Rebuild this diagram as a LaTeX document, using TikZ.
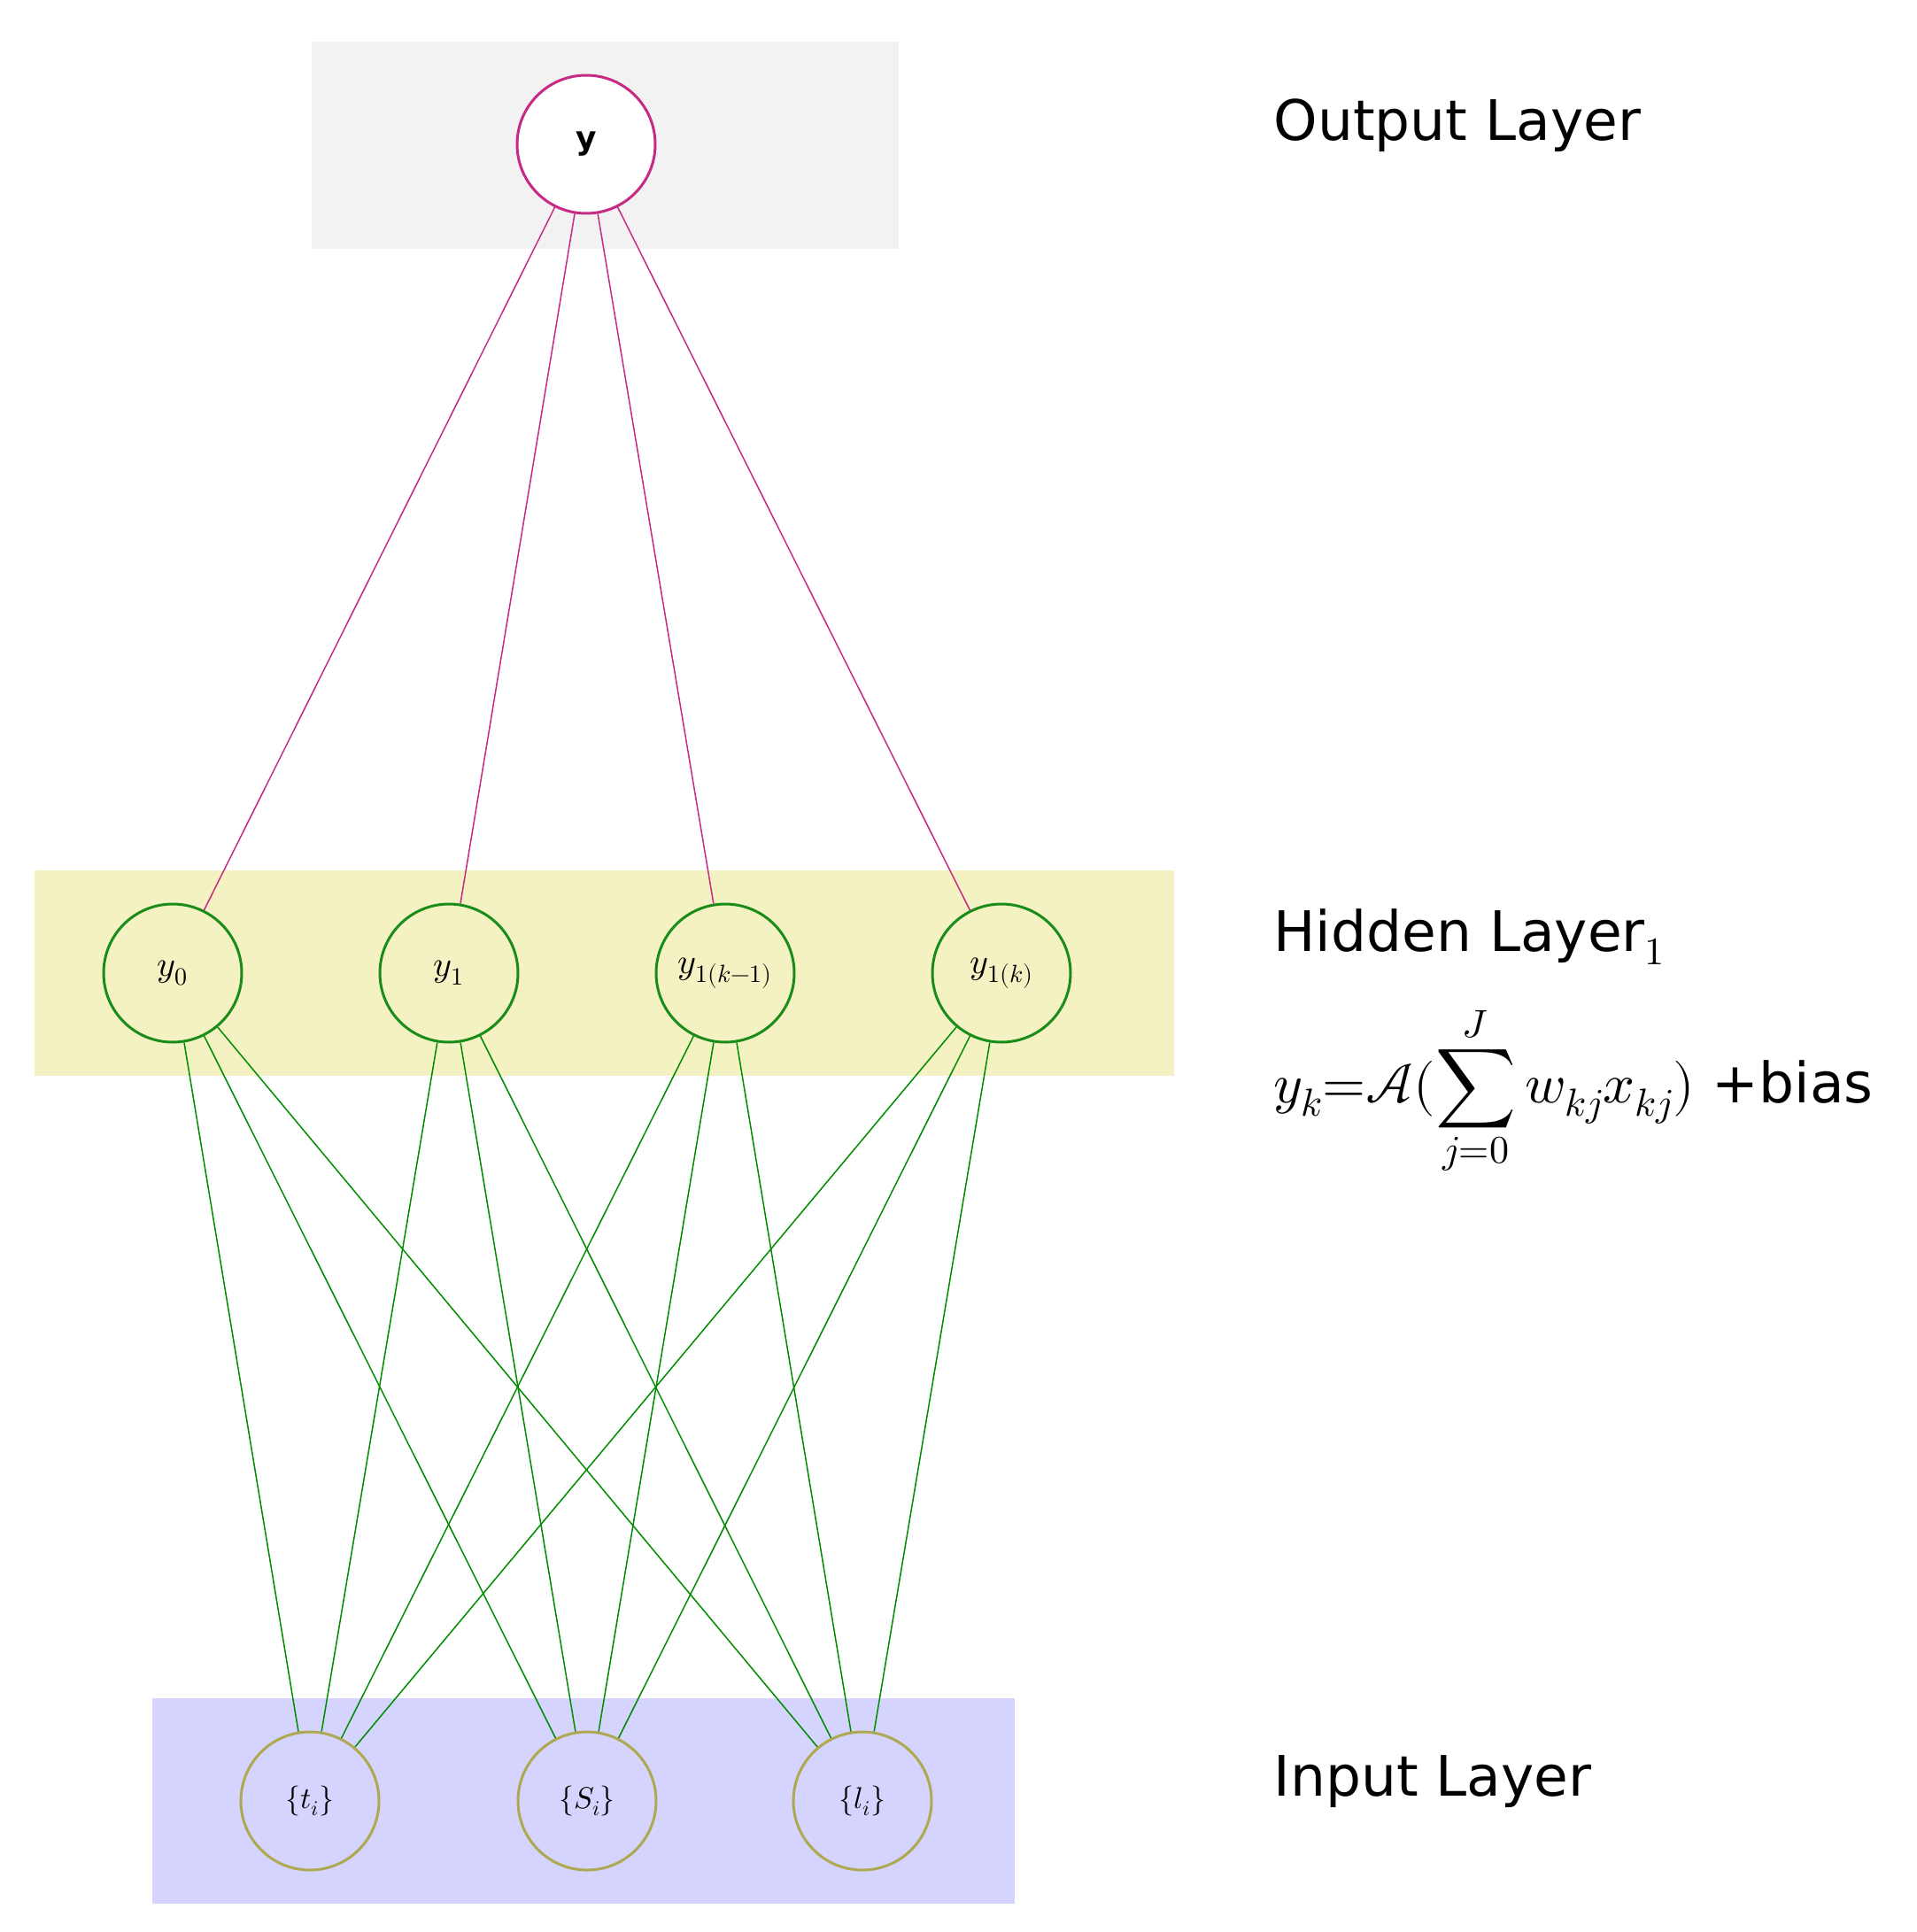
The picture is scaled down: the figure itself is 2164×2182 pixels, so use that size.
\documentclass[tikz,border=0pt]{standalone}
\usepackage{unicode-math}
\setmainfont{DejaVu Sans}
\setmathfont{Latin Modern Math}
\begin{document}
\begin{tikzpicture}[x=1pt,y=-1pt,
  hid/.style={circle,draw=green!50!black!90,line width=3pt,minimum size=156pt,inner sep=0pt,font=\fontsize{40}{48}\selectfont},
  inp/.style={circle,draw=yellow!60!black!90,line width=3pt,minimum size=156pt,inner sep=0pt,font=\fontsize{34}{40}\selectfont},
  outn/.style={circle,draw=magenta!80!black,fill=white,line width=3pt,minimum size=156pt,inner sep=0pt,font=\fontsize{36}{44}\selectfont\bfseries},
  lab/.style={anchor=west,font=\fontsize{63}{74}\selectfont},
  pe/.style={magenta!80!black,line width=1.5pt},
  ge/.style={green!55!black,line width=1.5pt}]
\useasboundingbox (0,0) rectangle (2164,2182);
\fill[gray!10] (352,47) rectangle (1015,281);
\fill[yellow!50!olive!20] (39,983) rectangle (1326,1215);
\fill[blue!17] (172,1918) rectangle (1146,2150);
\node[outn] (o) at (662,163) {y};
\node[hid] (h0) at (195,1099) {$y_0$};
\node[hid] (h1) at (507,1099) {$y_1$};
\node[hid] (h2) at (819,1099) {$y_{1(k-1)}$};
\node[hid] (h3) at (1131,1099) {$y_{1(k)}$};
\node[inp] (i0) at (350,2034) {$\{t_i\}$};
\node[inp] (i1) at (663,2034) {$\{S_i\}$};
\node[inp] (i2) at (974,2034) {$\{l_i\}$};
\foreach \h in {h0,h1,h2,h3}{
  \draw[pe] (\h) -- (o);
  \foreach \i in {i0,i1,i2}{\draw[ge] (\h) -- (\i);}
}
\node[lab] (lo) at (1435,142) {Output Layer};
\node[lab] (lh) at (1435,1058) {Hidden Layer$_1$};
\node[lab] (lf) at (1435,1232) {$y_k{=}\mathcal{A}(\displaystyle\sum_{j=0}^{J}w_{kj}x_{kj})$ +bias};
\node[lab] (li) at (1435,2012) {Input Layer};
\end{tikzpicture}
\end{document}
